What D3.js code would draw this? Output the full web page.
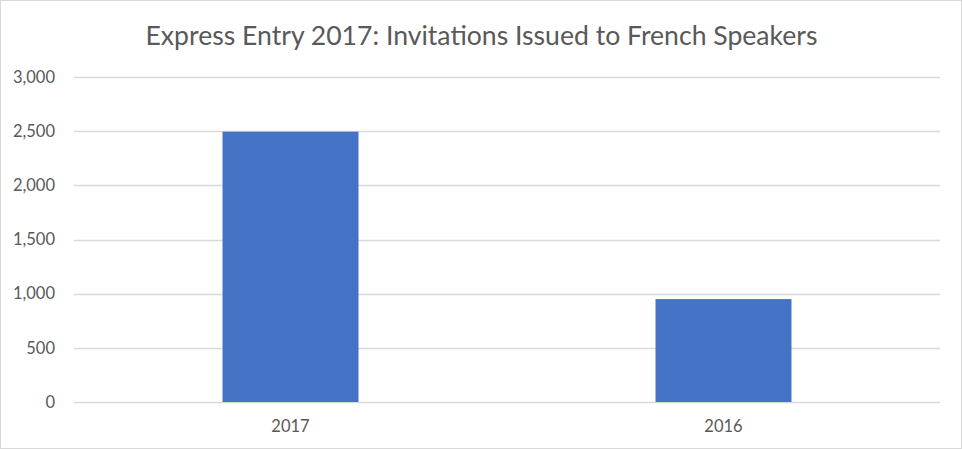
<!DOCTYPE html>
<html>
<head>
    <title>Express Entry 2017</title>
    <script src="https://d3js.org/d3.v7.min.js"></script>
    <style>
        body { margin: 0; background: #fff; }
        svg { display: block; }
    </style>
</head>
<body>
    <div id="chart"></div>
    <script>
        var categories = ["2017", "2016"];
        var invitations = [2495, 950];
        var yTicks = [0, 500, 1000, 1500, 2000, 2500, 3000];

        var width = 962;
        var height = 449;
        var margin = {top: 77, right: 22, bottom: 47, left: 74};
        var font = "Lato, 'Open Sans', sans-serif";
        var textColor = "#595959";

        var svg = d3.select("#chart")
            .append("svg")
            .attr("width", width)
            .attr("height", height);

        // chart border
        svg.append("rect")
            .attr("x", 0.5).attr("y", 0.5)
            .attr("width", width - 1).attr("height", height - 1)
            .attr("fill", "#fff")
            .attr("stroke", "#d9d9d9");

        var x = d3.scaleBand()
            .domain(categories)
            .range([margin.left, width - margin.right])
            .paddingInner(0.686)
            .paddingOuter(0.343);

        var y = d3.scaleLinear()
            .domain([0, 3000])
            .range([height - margin.bottom, margin.top]);

        // gridlines
        svg.append("g")
            .selectAll("line")
            .data(yTicks)
            .enter()
            .append("line")
            .attr("x1", margin.left)
            .attr("x2", width - margin.right)
            .attr("y1", function(d) { return Math.round(y(d)) + 0.5; })
            .attr("y2", function(d) { return Math.round(y(d)) + 0.5; })
            .attr("stroke", "#d9d9d9")
            .attr("stroke-width", 1.5);

        // y axis labels
        var yAxis = d3.axisLeft(y)
            .tickValues(yTicks)
            .tickFormat(d3.format(","))
            .tickSize(0)
            .tickPadding(19);
        var yg = svg.append("g")
            .attr("transform", "translate(" + margin.left + ",0)")
            .call(yAxis);
        yg.select(".domain").remove();
        yg.selectAll("text")
            .attr("fill", textColor)
            .style("font-family", font)
            .style("font-size", "16.5px");

        // bars
        svg.append("g")
            .selectAll("rect")
            .data(invitations)
            .enter()
            .append("rect")
            .attr("x", function(d, i) { return x(categories[i]); })
            .attr("width", x.bandwidth())
            .attr("y", function(d) { return y(d); })
            .attr("height", function(d) { return y(0) - y(d); })
            .attr("fill", "#4472c4");

        // x axis labels
        var xAxis = d3.axisBottom(x).tickSize(0).tickPadding(18);
        var xg = svg.append("g")
            .attr("transform", "translate(0," + (height - margin.bottom) + ")")
            .call(xAxis);
        xg.select(".domain").remove();
        xg.selectAll("text")
            .attr("fill", textColor)
            .style("font-family", font)
            .style("font-size", "16.5px");

        // title
        svg.append("text")
            .attr("x", width / 2 + 0.5)
            .attr("y", 45)
            .attr("text-anchor", "middle")
            .attr("fill", textColor)
            .style("font-family", font)
            .style("font-size", "26.6px")
            .text("Express Entry 2017: Invitations Issued to French Speakers");
    </script>
</body>
</html>
